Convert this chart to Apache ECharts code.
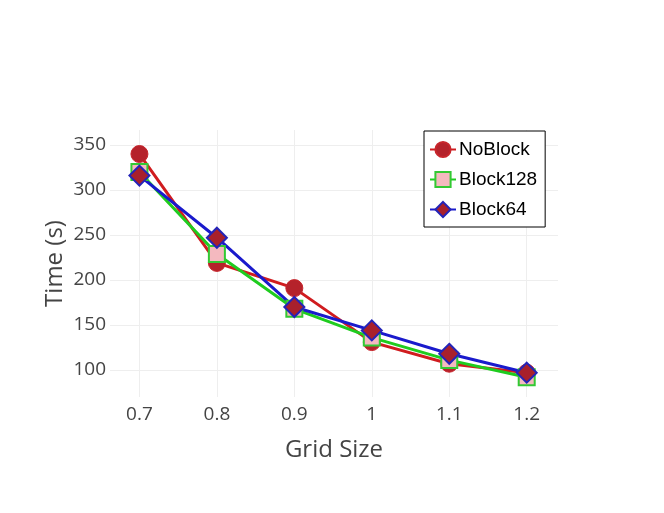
<!DOCTYPE html>
<html>
<head>
<meta charset="utf-8">
<script src="https://cdn.jsdelivr.net/npm/echarts@6/dist/echarts.min.js"></script>
<style>
html, body { margin: 0; padding: 0; background: #fff; }
#chart { width: 664px; height: 513px; }
</style>
</head>
<body>
<div id="chart"></div>
<script>
// 数据
var gridSize = [0.7, 0.8, 0.9, 1.0, 1.1, 1.2];
var noBlock = [340, 219, 191, 131, 107, 97];
var block128 = [320, 229, 168, 136, 111, 92];
var block64 = [316, 247, 170, 144, 118, 97];
var xTicks = [0.7, 0.8, 0.9, 1, 1.1, 1.2];
var yTicks = [100, 150, 200, 250, 300, 350];

function pairs(ys) {
	return gridSize.map(function(x, i) {
		return [x, ys[i]];
	});
}

var chart = echarts.init(document.getElementById('chart'));

var tickFont = {
	fontFamily: 'Open Sans',
	fontSize: 19,
	color: '#444'
};

var option = {
	animation: false,
	backgroundColor: '#fff',
	grid: {
		left: 110,
		right: 106,
		top: 130,
		bottom: 116
	},
	legend: {
		orient: 'vertical',
		left: 424,
		top: 131,
		backgroundColor: '#fff',
		borderColor: '#000',
		borderWidth: 1,
		borderRadius: 0,
		padding: [9, 8, 8, 5],
		itemGap: 11,
		itemWidth: 26,
		itemHeight: 19,
		textStyle: {
			fontFamily: 'Liberation Sans',
			fontSize: 19,
			color: '#000',
			padding: [0, 0, 0, -2]
		},
		data: ['NoBlock', 'Block128', 'Block64']
	},
	xAxis: {
		type: 'value',
		min: 0.662,
		max: 1.2404,
		name: 'Grid Size',
		nameLocation: 'middle',
		nameGap: 41,
		nameTextStyle: {
			fontFamily: 'Open Sans',
			fontSize: 24,
			color: '#444'
		},
		axisLine: { show: false },
		axisTick: { show: false, customValues: xTicks },
		axisLabel: {
			customValues: xTicks,
			margin: 8,
			fontFamily: tickFont.fontFamily,
			fontSize: tickFont.fontSize,
			color: tickFont.color,
			formatter: function(v) {
				return String(Math.round(v * 10) / 10);
			}
		},
		splitLine: { show: true, lineStyle: { color: '#eee', width: 1 } }
	},
	yAxis: {
		type: 'value',
		min: 70,
		max: 366.7,
		name: 'Time (s)',
		nameLocation: 'middle',
		nameGap: 43,
		nameMoveOverlap: false,
		nameTextStyle: {
			fontFamily: 'Open Sans',
			fontSize: 24,
			color: '#444'
		},
		axisLine: { show: false },
		axisTick: { show: false, customValues: yTicks },
		axisLabel: {
			customValues: yTicks,
			margin: 4,
			fontFamily: tickFont.fontFamily,
			fontSize: tickFont.fontSize,
			color: tickFont.color
		},
		splitLine: { show: true, lineStyle: { color: '#eee', width: 1 } }
	},
	series: [{
		name: 'NoBlock',
		type: 'line',
		data: pairs(noBlock),
		symbol: 'circle',
		symbolSize: 17,
		lineStyle: { color: '#d01c1f', width: 3 },
		itemStyle: { color: '#b5222b', borderColor: '#c8262c', borderWidth: 1 }
	}, {
		name: 'Block128',
		type: 'line',
		data: pairs(block128),
		symbol: 'rect',
		symbolSize: 16,
		lineStyle: { color: '#1fcc1f', width: 3 },
		itemStyle: { color: '#f4b9bf', borderColor: '#33c933', borderWidth: 2 }
	}, {
		name: 'Block64',
		type: 'line',
		data: pairs(block64),
		symbol: 'diamond',
		symbolSize: 20,
		lineStyle: { color: '#1a1acc', width: 3 },
		itemStyle: { color: '#a8202c', borderColor: '#2424b8', borderWidth: 2 }
	}]
};
chart.setOption(option);
</script>
</body>
</html>
